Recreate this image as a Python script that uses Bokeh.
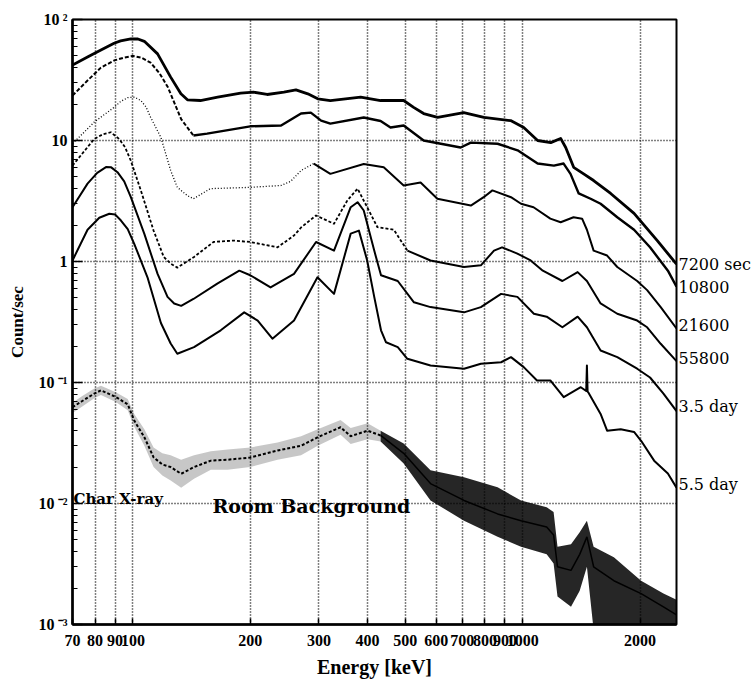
import numpy as np
from bokeh.plotting import figure
from bokeh.models import FixedTicker, Label, LogAxis, PrintfTickFormatter
from bokeh.embed import file_html
from bokeh.resources import INLINE

# ---- spectra: energy [keV] and count rate [counts/sec] ----
e_7200 = [70, 76.5, 82.8, 89.5, 93, 98.8, 103, 107, 115.7, 125, 132.8, 138, 149, 165, 189, 204, 221, 244, 262,
          281, 298, 321, 384, 432, 495, 525, 557, 605, 706, 795, 931, 1006, 1092, 1180, 1251, 1289, 1351, 1433,
          1520, 1681, 1930, 2214, 2480]
r_7200 = [42, 48.9, 56, 63.7, 66.5, 69.2, 69, 66, 52, 33.4, 24.3, 21.7, 21.4, 22.8, 24.6, 25.1, 24, 25.1, 26.2,
          24.3, 22.1, 21.4, 22.8, 21.4, 21.4, 18.8, 16.7, 15.5, 17, 15.5, 14.6, 12.8, 10, 9.6, 10.4, 8.75, 6.0,
          5.3, 4.67, 3.65, 2.5, 1.49, 0.95]

e_10800 = [70, 76.5, 82.8, 89.5, 95, 100, 105, 111, 117, 123, 133, 143, 155, 200, 240, 270, 286, 304, 321, 391,
           432, 458, 495, 557, 693, 736, 862, 970, 1092, 1202, 1273, 1326, 1392, 1493, 1584, 1748, 1930, 2121,
           2357, 2480]
r_10800 = [23.5, 31.3, 40, 45.8, 48.5, 50, 48.5, 44, 36, 27.5, 15, 11, 11.4, 13.1, 13.3, 16.7, 17, 14.6, 13.8,
           15.5, 14.5, 12.8, 13.3, 10, 8.75, 9.6, 9.4, 8.3, 6.45, 6.2, 6.45, 5.3, 3.65, 3.3, 3.0, 2.32, 1.83,
           1.31, 0.84, 0.62]

e_21600 = [70, 79.6, 89.5, 93, 97, 101, 104.8, 108, 111, 118, 125, 130, 138, 143, 158, 200, 240, 254, 270, 291,
           321, 391, 440, 495, 547, 604, 736, 794, 836, 933, 990, 1066, 1177, 1251, 1350, 1420, 1461, 1520, 1646,
           1748, 1966, 2085, 2259, 2480]
r_21600 = [9.4, 14.2, 18.8, 21, 22.6, 22.8, 21.4, 19, 15.6, 10.6, 5.65, 4.1, 3.5, 3.3, 4.0, 4.1, 4.25, 4.6, 5.65,
           6.45, 5.3, 6.4, 6.0, 4.25, 4.5, 3.3, 2.9, 3.4, 3.87, 3.4, 3.0, 2.81, 2.26, 2.11, 2.32, 2.26, 1.83,
           1.23, 1.12, 0.9, 0.69, 0.58, 0.42, 0.28]

e_55800 = [70, 79.6, 84, 87.8, 92.2, 95.5, 98.8, 104.8, 113, 120, 125, 130, 143.5, 161, 181, 200, 235, 259, 270,
           295, 328, 355, 377, 399, 424, 467, 506, 580, 707, 781, 844, 885, 969, 1048, 1126, 1264, 1383, 1461,
           1584, 1748, 1966, 2085, 2259, 2480]
r_55800 = [6.2, 10.3, 11.3, 11.7, 10.3, 8.8, 6.8, 3.87, 1.8, 1.09, 0.96, 0.89, 1.09, 1.45, 1.49, 1.45, 1.31,
           1.64, 1.91, 2.4, 2.05, 3.2, 4.0, 2.81, 1.92, 1.83, 1.23, 1.02, 0.90, 0.93, 1.23, 1.31, 1.16, 1.02,
           0.84, 0.69, 0.817, 0.69, 0.45, 0.37, 0.325, 0.286, 0.209, 0.15]

e_3d5 = [70, 76.5, 81, 85.3, 88, 91.3, 95, 98.8, 107, 115.7, 122.7, 127.6, 133, 143, 165, 187.5, 200, 225.5, 259,
         295, 328, 362, 377, 391, 416, 433, 478, 526, 580, 707, 781, 880, 969, 1068, 1152, 1264, 1383, 1461,
         1584, 1748, 1966, 2121, 2296, 2480]
r_3d5 = [2.81, 4.4, 5.4, 6.03, 6.0, 5.47, 4.6, 3.4, 1.69, 0.79, 0.51, 0.45, 0.43, 0.49, 0.66, 0.84, 0.77, 0.61,
         0.79, 1.45, 1.23, 2.81, 3.09, 2.64, 1.23, 0.77, 0.69, 0.46, 0.42, 0.38, 0.42, 0.54, 0.51, 0.37, 0.35,
         0.286, 0.35, 0.286, 0.184, 0.162, 0.13, 0.11, 0.081, 0.058]

e_5d5 = [70, 76.5, 82, 87, 90, 93.2, 97, 100.8, 109, 118, 125, 130, 143.5, 168, 193, 209, 228, 259, 297.5, 328,
         362, 380, 399, 416, 433, 446, 478, 506, 580, 707, 781, 880, 933, 1006, 1088, 1177, 1274, 1409, 1455,
         1461, 1467, 1476, 1584, 1646, 1784, 1930, 2012, 2173, 2357, 2480]
r_5d5 = [1.02, 1.83, 2.3, 2.48, 2.45, 2.18, 1.85, 1.40, 0.74, 0.31, 0.21, 0.173, 0.196, 0.27, 0.38, 0.325, 0.23,
         0.325, 0.74, 0.54, 1.70, 1.80, 1.02, 0.51, 0.27, 0.215, 0.196, 0.157, 0.138, 0.13, 0.143, 0.147, 0.162,
         0.134, 0.104, 0.104, 0.0757, 0.0914, 0.085, 0.138, 0.084, 0.082, 0.055, 0.040, 0.041, 0.039, 0.033,
         0.0226, 0.0177, 0.0135]

# room background: central rate and the spread of the counting noise
e_bg = [70, 74, 79.6, 82.8, 90.4, 97, 100.8, 107, 113, 119, 125, 133, 143.5, 158.5, 175, 200, 235, 270, 298,
        341, 362, 400, 432, 495, 580, 707, 862, 990, 1152, 1200, 1228, 1330, 1400, 1461, 1520, 1713, 2012,
        2296, 2480]
r_bg = [0.0625, 0.07, 0.081, 0.086, 0.076, 0.066, 0.0485, 0.0353, 0.0241, 0.021, 0.020, 0.0176, 0.020, 0.0226,
        0.023, 0.024, 0.0274, 0.030, 0.0353, 0.0427, 0.036, 0.040, 0.0365, 0.026, 0.0146, 0.0106, 0.0082,
        0.0072, 0.0064, 0.0055, 0.0030, 0.0028, 0.0038, 0.0053, 0.003, 0.0023, 0.0018, 0.0014, 0.0012]
lo_bg = [0.056, 0.063, 0.074, 0.079, 0.069, 0.059, 0.043, 0.030, 0.020, 0.017, 0.0155, 0.0135, 0.016, 0.019,
         0.019, 0.020, 0.023, 0.025, 0.030, 0.037, 0.031, 0.034, 0.0325, 0.0214, 0.0106, 0.0072, 0.0053,
         0.0044, 0.0038, 0.0032, 0.0017, 0.0014, 0.0019, 0.0030, 0.0009, 0.0009, 0.0009, 0.0009, 0.0009]
hi_bg = [0.068, 0.077, 0.089, 0.094, 0.083, 0.073, 0.055, 0.041, 0.029, 0.026, 0.025, 0.023, 0.025, 0.027,
         0.028, 0.029, 0.032, 0.036, 0.041, 0.049, 0.042, 0.046, 0.040, 0.0313, 0.0188, 0.0165, 0.0136,
         0.0106, 0.0093, 0.0085, 0.0044, 0.0046, 0.0058, 0.0072, 0.0044, 0.0036, 0.0023, 0.0018, 0.0016]

# curve names written at the right edge, with the rate they sit at
curve_names = ["7200 sec", "10800", "21600", "55800", "3.5 day", "5.5 day"]
name_rates = [0.94, 0.61, 0.296, 0.158, 0.0634, 0.01435]

# axis ticks
x_ticks = [70, 80, 90, 100, 200, 300, 400, 500, 600, 700, 800, 900, 1000, 2000]
x_grid = [80, 90, 100, 200, 300, 400, 500, 600, 700, 800, 900, 1000, 2000]
y_ticks = [1e-3, 1e-2, 1e-1, 1.0, 10.0, 100.0]
y_tick_labels = ["10\u2009\u207b\u00b3", "10\u2009\u207b\u00b2", "10\u2009\u207b\u00b9", "1", "10",
                 "10\u2009\u00b2"]
y_grid = [1e-2, 1e-1, 1, 10]

X0, X1 = 70, 2480
Y0, Y1 = 1e-3, 1e2

p = figure(width=754, height=684, x_axis_type="log", y_axis_type="log",
           x_range=(X0, X1), y_range=(Y0, Y1), title=None,
           output_backend="svg", toolbar_location=None,
           min_border_left=72, min_border_right=78, min_border_top=19, min_border_bottom=60)
p.background_fill_color = "white"
p.border_fill_color = "white"
p.outline_line_color = "black"
p.outline_line_width = 2

# x axis
xa = p.xaxis[0]
xa.ticker = FixedTicker(ticks=x_ticks, minor_ticks=[])
xa.formatter = PrintfTickFormatter(format="%d")
xa.major_tick_in = 6
xa.major_tick_out = 0
xa.minor_tick_in = 0
xa.minor_tick_out = 0
xa.axis_line_width = 2.5
xa.major_tick_line_width = 1.5
xa.major_label_standoff = 10
xa.major_label_text_font = "Liberation Serif"
xa.major_label_text_font_style = "bold"
xa.major_label_text_font_size = "16px"
xa.major_label_text_color = "black"
xa.axis_label = "Energy [keV]"
xa.axis_label_standoff = 7
xa.axis_label_text_font = "Liberation Serif"
xa.axis_label_text_font_style = "bold"
xa.axis_label_text_font_size = "20px"
xa.axis_label_text_color = "black"

# y axis next to the frame: inward ticks only
ya = p.yaxis[0]
ya.ticker = FixedTicker(ticks=y_ticks,
                        minor_ticks=[k * 10.0 ** d for d in range(-3, 2) for k in range(2, 10)])
ya.major_label_overrides = {v: "" for v in y_ticks}
ya.major_label_text_font_size = "0px"
ya.major_label_standoff = 0
ya.major_tick_in = 10
ya.major_tick_out = 0
ya.minor_tick_in = 5
ya.minor_tick_out = 0
ya.axis_line_width = 2.5
ya.major_tick_line_width = 1.5
ya.minor_tick_line_width = 1.2

# decade labels and axis title
y_lab = LogAxis(ticker=FixedTicker(ticks=y_ticks, minor_ticks=[]),
                major_label_overrides=dict(zip(y_ticks, y_tick_labels)),
                axis_line_color=None, major_tick_line_color=None, minor_tick_line_color=None,
                major_tick_in=0, major_tick_out=0, minor_tick_in=0, minor_tick_out=0,
                major_label_standoff=5,
                major_label_text_font="Liberation Serif", major_label_text_font_style="bold",
                major_label_text_font_size="16px", major_label_text_color="black",
                axis_label="Count/sec", axis_label_standoff=9,
                axis_label_text_font="Liberation Serif", axis_label_text_font_style="bold",
                axis_label_text_font_size="17px", axis_label_text_color="black")
p.add_layout(y_lab, "left")

# curve names on the right edge
names_axis = LogAxis(ticker=FixedTicker(ticks=name_rates, minor_ticks=[]),
                     major_label_overrides=dict(zip(name_rates, curve_names)),
                     axis_line_color=None, major_tick_line_color=None, minor_tick_line_color=None,
                     major_tick_in=0, major_tick_out=0, minor_tick_in=0, minor_tick_out=0,
                     major_label_standoff=2,
                     major_label_text_font="DejaVu Serif", major_label_text_font_size="16px",
                     major_label_text_color="black")
p.add_layout(names_axis, "right")

for g, t in ((p.xgrid[0], x_grid), (p.ygrid[0], y_grid)):
    g.ticker = FixedTicker(ticks=t, minor_ticks=[])
    g.grid_line_color = "black"
    g.grid_line_dash = "1 2"
    g.grid_line_width = 1.5

# room background: noise band (sparse at low energy, dense above ~430 keV) and central rate
eb = np.asarray(e_bg, dtype=float)
low = eb <= 432
high = eb >= 432
p.varea(x=eb[low], y1=np.asarray(lo_bg)[low], y2=np.asarray(hi_bg)[low],
        fill_color="black", fill_alpha=0.22)
p.varea(x=eb[high], y1=np.asarray(lo_bg)[high], y2=np.asarray(hi_bg)[high],
        fill_color="black", fill_alpha=0.85)
p.line(eb[low], np.asarray(r_bg)[low], line_color="black", line_width=2, line_dash="3 2")
p.line(eb[high], np.asarray(r_bg)[high], line_color="black", line_width=1.5)


def draw(e, r, cut, low_dash, low_width, width):
    e = np.asarray(e, dtype=float)
    r = np.asarray(r, dtype=float)
    if cut is not None:
        lo = e <= cut
        hi = e >= cut
        p.line(e[lo], r[lo], line_color="black", line_width=low_width, line_dash=low_dash,
               line_join="round")
        p.line(e[hi], r[hi], line_color="black", line_width=width, line_join="round")
    else:
        p.line(e, r, line_color="black", line_width=width, line_join="round")


draw(e_7200, r_7200, None, None, None, 2.8)
draw(e_10800, r_10800, 143, "4 2", 2.0, 2.4)
draw(e_21600, r_21600, 291, "1 2", 1.3, 2.0)
draw(e_55800, r_55800, 506, "3 2", 1.8, 2.0)
draw(e_3d5, r_3d5, None, None, None, 2.0)
draw(e_5d5, r_5d5, None, None, None, 2.0)

# in-plot annotations
p.add_layout(Label(x=X0, y=0.0108, x_offset=1, text="Char X-ray", text_align="left",
                   text_baseline="middle", text_font="DejaVu Serif", text_font_style="bold",
                   text_font_size="15px", text_color="black"))
p.add_layout(Label(x=160, y=0.0096, text="Room Background", text_align="left",
                   text_baseline="middle", text_font="DejaVu Serif", text_font_style="bold",
                   text_font_size="19px", text_color="black"))

open("out.html", "w").write(file_html(p, INLINE))
